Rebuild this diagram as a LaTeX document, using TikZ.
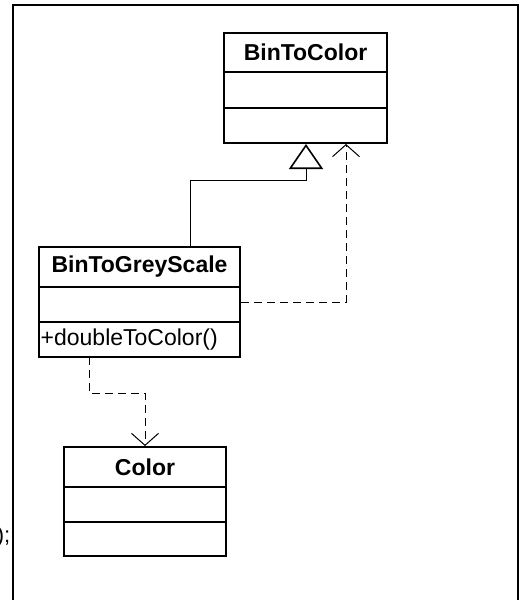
\documentclass[tikz,border=0pt]{standalone}
\usepackage{fontspec}
\setmainfont{Liberation Sans}
\usetikzlibrary{arrows.meta}
\begin{document}
\begin{tikzpicture}[x=1pt,y=-1pt,
  classbox/.style={draw,line width=2pt,inner sep=0pt},
  ctitle/.style={font=\fontsize{23}{23}\selectfont\bfseries,inner sep=0pt,anchor=center},
  cmethod/.style={font=\fontsize{23}{23}\selectfont,inner sep=0pt,anchor=west},
  sepline/.style={line width=2pt},
  conn/.style={line width=1pt},
  dashconn/.style={line width=1pt,dash pattern=on 8pt off 5pt},
  gentip/.style={-{Triangle[open,length=25pt,width=34pt,line width=1.6pt]}},
  deptip/.style={-{Straight Barb[length=12pt,width=27pt,line width=1pt]}}
]
\useasboundingbox (0,0) rectangle (525,600);
\clip (0,0) rectangle (525,600);
% frame
\draw[line width=2pt] (13,5) -- (517.5,5) -- (517.5,615) -- (13,615) -- cycle;
\node[font=\fontsize{22}{22}\selectfont,inner sep=0pt,anchor=east] (cut) at (10.5,537) {);};
% BinToColor
\node[classbox,minimum width=163pt,minimum height=110pt] (btc) at (305.5,88) {};
\node[ctitle] (btct) at (305.5,52.5) {BinToColor};
\draw[sepline] (224,72) -- (387,72);
\draw[sepline] (224,108) -- (387,108);
% BinToGreyScale
\node[classbox,minimum width=201pt,minimum height=110pt] (bgs) at (139.5,302) {};
\node[ctitle] (bgst) at (139.5,267) {BinToGreyScale};
\draw[sepline] (39,287) -- (240,287);
\draw[sepline] (39,322) -- (240,322);
\node[cmethod] (bgsm) at (40.5,339.5) {+doubleToColor()};
% Color
\node[classbox,minimum width=162pt,minimum height=109pt] (col) at (145,501.5) {};
\node[ctitle] (colt) at (145,467) {Color};
\draw[sepline] (64,487) -- (226,487);
\draw[sepline] (64,522) -- (226,522);
% connector coordinates
\coordinate (g1) at (190,180);
\coordinate (g2) at (306,180);
\coordinate (d1) at (346,302);
\coordinate (c0) at (89,357);
\coordinate (c1) at (89,393);
\coordinate (c2) at (145,393);
% generalization
\draw[conn,gentip] (bgs.north -| g1) -- (g1) -- (g2) -- (btc.south -| g2);
% realization / dependency to BinToColor
\draw[dashconn,deptip] (bgs.east) -- (d1) -- (btc.south -| d1);
% dependency to Color
\draw[dashconn,deptip] (c0) -- (c1) -- (c2) -- (col.north -| c2);
\end{tikzpicture}
\end{document}
